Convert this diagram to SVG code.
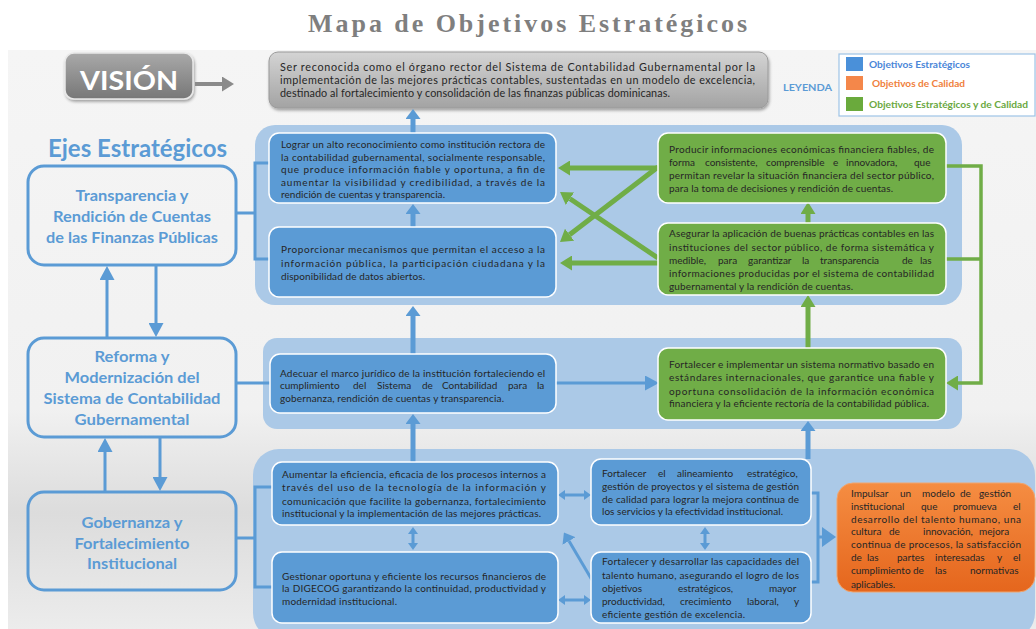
<svg xmlns="http://www.w3.org/2000/svg" width="1036" height="629" viewBox="0 0 1036 629">
<style>
.t{font-family:Lato,"Liberation Sans",sans-serif;font-size:10px;fill:#262626}
.tv{font-family:Lato,"Liberation Sans",sans-serif;font-size:10.8px;fill:#262626}
.ax{font-family:Lato,"Liberation Sans",sans-serif;font-weight:bold;font-size:15.5px;fill:#5b9bd5;text-anchor:middle}
.lg{font-family:Lato,"Liberation Sans",sans-serif;font-weight:bold;font-size:10px}
.pan{fill:#abc9e7}
.bb{fill:#5b9bd5;stroke:#ffffff;stroke-width:1.5}
.gb{fill:#70ad47;stroke:#ffffff;stroke-width:1.5}
.axbox{fill:none;stroke:#5b9bd5;stroke-width:3}
.cb{fill:none;stroke:#5b9bd5;stroke-width:3}
.cbw{fill:none;stroke:#5b9bd5;stroke-width:5}
.cg{fill:none;stroke:#70ad47;stroke-width:5}
.cgt{fill:none;stroke:#70ad47;stroke-width:3.5}
</style>
<defs>
<linearGradient id="bg" x1="0" y1="0" x2="0" y2="1">
<stop offset="0" stop-color="#f5f5f5"/>
<stop offset="0.62" stop-color="#f1f1f1"/>
<stop offset="0.8" stop-color="#dcdcdc"/>
<stop offset="1" stop-color="#ececec"/>
</linearGradient>
<linearGradient id="gv" x1="0" y1="0" x2="0" y2="1">
<stop offset="0" stop-color="#a9a9a9"/>
<stop offset="1" stop-color="#777777"/>
</linearGradient>
<linearGradient id="gvt" x1="0" y1="0" x2="0" y2="1">
<stop offset="0" stop-color="#d4d4d4"/>
<stop offset="1" stop-color="#a3a3a3"/>
</linearGradient>
<linearGradient id="go" x1="0" y1="0" x2="0" y2="1">
<stop offset="0" stop-color="#f58d42"/>
<stop offset="1" stop-color="#e5661d"/>
</linearGradient>
<filter id="sh" x="-10%" y="-20%" width="120%" height="150%">
<feDropShadow dx="1" dy="2" stdDeviation="1.5" flood-color="#000" flood-opacity="0.35"/>
</filter>
<marker id="mB" markerUnits="userSpaceOnUse" viewBox="0 0 10 15" markerWidth="10" markerHeight="15" refX="0" refY="7.5" orient="auto-start-reverse"><path d="M0,0 L10,7.5 L0,15 z" fill="#5b9bd5"/></marker>
<marker id="mBL" markerUnits="userSpaceOnUse" viewBox="0 0 14 15" markerWidth="14" markerHeight="15" refX="0" refY="7.5" orient="auto-start-reverse"><path d="M0,0 L14,7.5 L0,15 z" fill="#5b9bd5"/></marker>
<marker id="mBs" markerUnits="userSpaceOnUse" viewBox="0 0 7 10" markerWidth="7" markerHeight="10" refX="0" refY="5" orient="auto-start-reverse"><path d="M0,0 L7,5 L0,10 z" fill="#5b9bd5"/></marker>
<marker id="mBo" markerUnits="userSpaceOnUse" viewBox="0 0 14 20" markerWidth="14" markerHeight="20" refX="0" refY="10" orient="auto"><path d="M0,0 L14,10 L0,20 z" fill="#5b9bd5"/></marker>
<marker id="mG" markerUnits="userSpaceOnUse" viewBox="0 0 12 15" markerWidth="12" markerHeight="15" refX="0" refY="7.5" orient="auto"><path d="M0,0 L12,7.5 L0,15 z" fill="#70ad47"/></marker>
<marker id="mGr" markerUnits="userSpaceOnUse" viewBox="0 0 12 15" markerWidth="12" markerHeight="15" refX="0" refY="7.5" orient="auto"><path d="M0,0 L12,7.5 L0,15 z" fill="#8a8a8a"/></marker>
</defs>

<rect x="0" y="0" width="1036" height="629" fill="#ffffff"/>
<rect x="8" y="50" width="1028" height="579" fill="url(#bg)"/>

<text x="308" y="32" textLength="439" lengthAdjust="spacing" font-family="'Liberation Serif',serif" font-weight="bold" font-size="26" fill="#7f7f7f">Mapa de Objetivos Estratégicos</text>

<!-- panels -->
<rect class="pan" x="255" y="125" width="707" height="180" rx="20"/>
<rect class="pan" x="263" y="338" width="699" height="91" rx="14"/>
<rect class="pan" x="253" y="449" width="782" height="190" rx="26"/>

<g id="vision-label">
<rect x="65" y="53" width="128" height="46" rx="9" fill="url(#gv)" stroke="#e8e8e8" stroke-width="1.5" filter="url(#sh)"/>
<text x="129" y="90" text-anchor="middle" textLength="98" lengthAdjust="spacingAndGlyphs" font-family="Lato,'Liberation Sans',sans-serif" font-weight="bold" font-size="27" fill="#ffffff">VISIÓN</text>
</g>

<g id="vision-text">
<rect x="269" y="52" width="499" height="56" rx="9" fill="url(#gvt)" stroke="#9a9a9a" stroke-width="1" filter="url(#sh)"/>
<text class="tv" x="280" y="71" textLength="475" lengthAdjust="spacing">Ser reconocida como el órgano rector del Sistema de Contabilidad Gubernamental por la</text>
<text class="tv" x="280" y="84" textLength="475" lengthAdjust="spacing">implementación de las mejores prácticas contables, sustentadas en un modelo de excelencia,</text>
<text class="tv" x="280" y="97" textLength="390" lengthAdjust="spacing">destinado al fortalecimiento y consolidación de las finanzas públicas dominicanas.</text>
</g>

<g id="legend">
<text x="783" y="91" textLength="49" lengthAdjust="spacingAndGlyphs" class="lg" font-size="10.5" fill="#5b9bd5">LEYENDA</text>
<rect x="839" y="54" width="196" height="62" fill="#ffffff" stroke="#9dc3e6" stroke-width="1.2"/>
<rect x="846" y="57" width="17" height="14" fill="#4a90d9"/>
<rect x="846" y="76" width="17" height="14" fill="#f4874a"/>
<rect x="846" y="97" width="17" height="14" fill="#6aaa3c"/>
<text class="lg" x="869" y="68" textLength="101" lengthAdjust="spacingAndGlyphs" fill="#4a86d8">Objetivos Estratégicos</text>
<text class="lg" x="872" y="87" textLength="93" lengthAdjust="spacingAndGlyphs" fill="#f07f3c">Objetivos de Calidad</text>
<text class="lg" x="869" y="108" textLength="159" lengthAdjust="spacingAndGlyphs" fill="#6aa842">Objetivos Estratégicos y de Calidad</text>
</g>

<text x="48" y="157" textLength="179" lengthAdjust="spacingAndGlyphs" font-family="Lato,'Liberation Sans',sans-serif" font-weight="bold" font-size="24" fill="#5b9bd5">Ejes Estratégicos</text>

<g id="axis-transparencia">
<rect class="axbox" x="28" y="166" width="208" height="99" rx="16"/>
<text class="ax" x="132" y="201" textLength="113" lengthAdjust="spacingAndGlyphs">Transparencia y</text>
<text class="ax" x="132" y="222" textLength="158" lengthAdjust="spacingAndGlyphs">Rendición de Cuentas</text>
<text class="ax" x="132" y="243" textLength="172" lengthAdjust="spacingAndGlyphs">de las Finanzas Públicas</text>
</g>

<g id="axis-reforma">
<rect class="axbox" x="28" y="338" width="208" height="99" rx="16"/>
<text class="ax" x="132" y="362" textLength="75" lengthAdjust="spacingAndGlyphs">Reforma y</text>
<text class="ax" x="132" y="383" textLength="135" lengthAdjust="spacingAndGlyphs">Modernización del</text>
<text class="ax" x="132" y="404" textLength="177" lengthAdjust="spacingAndGlyphs">Sistema de Contabilidad</text>
<text class="ax" x="132" y="425" textLength="115" lengthAdjust="spacingAndGlyphs">Gubernamental</text>
</g>

<g id="axis-gobernanza">
<rect class="axbox" x="28" y="492" width="208" height="98" rx="16"/>
<text class="ax" x="132" y="528" textLength="101" lengthAdjust="spacingAndGlyphs">Gobernanza y</text>
<text class="ax" x="132" y="549" textLength="115" lengthAdjust="spacingAndGlyphs">Fortalecimiento</text>
<text class="ax" x="132" y="569" textLength="90" lengthAdjust="spacingAndGlyphs">Institucional</text>
</g>

<g id="connectors">
<line x1="195" y1="84" x2="222" y2="84" stroke="#8a8a8a" stroke-width="4" marker-end="url(#mGr)"/>
<!-- left axis arrows -->
<line class="cb" x1="107" y1="338" x2="107" y2="280" stroke-width="4" marker-end="url(#mBL)"/>
<line class="cb" x1="156" y1="265" x2="156" y2="323" stroke-width="4" marker-end="url(#mBL)"/>
<line class="cb" x1="105" y1="492" x2="105" y2="452" stroke-width="4" marker-end="url(#mBL)"/>
<line class="cb" x1="160" y1="437" x2="160" y2="477" stroke-width="4" marker-end="url(#mBL)"/>
<!-- brackets -->
<path class="cb" d="M236,213 H255 M269,163 H255 V259 H269"/>
<path class="cb" d="M236,383 H270"/>
<path class="cb" d="M236,538 H255 M272,487 H255 V587 H272"/>
<!-- vertical blue -->
<line class="cbw" x1="413" y1="133" x2="413" y2="119" marker-end="url(#mB)"/>
<line class="cbw" x1="413" y1="227" x2="413" y2="214" marker-end="url(#mB)"/>
<line class="cbw" x1="413" y1="354" x2="413" y2="316" marker-end="url(#mB)"/>
<line class="cbw" x1="413" y1="462" x2="413" y2="424" marker-end="url(#mB)"/>
<line class="cbw" x1="808" y1="459" x2="808" y2="431" marker-end="url(#mB)"/>
<line class="cb" x1="556" y1="383" x2="645" y2="383" stroke-width="4" marker-end="url(#mBL)"/>
<!-- green -->
<line class="cg" x1="808" y1="223" x2="808" y2="214" marker-end="url(#mG)"/>
<line class="cg" x1="808" y1="348" x2="808" y2="307" marker-end="url(#mG)"/>
<line class="cg" x1="658" y1="168" x2="570" y2="168" marker-end="url(#mG)"/>
<line class="cg" x1="658" y1="167" x2="569.5" y2="234.7" marker-end="url(#mG)"/>
<line class="cg" x1="658" y1="258" x2="570" y2="198.7" marker-end="url(#mG)"/>
<line class="cg" x1="658" y1="263" x2="572" y2="263" marker-end="url(#mG)"/>
<path class="cgt" d="M946,166 H981 V383 H958" marker-end="url(#mG)"/>
<path class="cgt" d="M946,259 H981"/>
<!-- panel 3 -->
<line class="cb" x1="413" y1="534" x2="413" y2="543" marker-start="url(#mBs)" marker-end="url(#mBs)"/>
<line class="cb" x1="705" y1="534" x2="705" y2="543" marker-start="url(#mBs)" marker-end="url(#mBs)"/>
<line class="cb" x1="565" y1="495" x2="584" y2="495" marker-start="url(#mBs)" marker-end="url(#mBs)"/>
<line class="cb" x1="565" y1="600" x2="584" y2="600" marker-start="url(#mBs)" marker-end="url(#mBs)"/>
<line class="cb" x1="592" y1="580" x2="569" y2="541" stroke-width="4" marker-end="url(#mB)"/>
<path class="cb" d="M811,493 H818 V582 H811 M818,537 H822" marker-end="url(#mBo)"/>
</g>

<g id="obj-lograr">
<rect class="bb" x="269" y="133" width="287" height="70" rx="10"/>
<text class="t" x="281" y="148" textLength="264" lengthAdjust="spacing">Lograr un alto reconocimiento como institución rectora de</text>
<text class="t" x="281" y="160.5" textLength="264" lengthAdjust="spacing">la contabilidad gubernamental, socialmente responsable,</text>
<text class="t" x="281" y="173" textLength="264" lengthAdjust="spacing">que produce información fiable y oportuna, a fin de</text>
<text class="t" x="281" y="185.5" textLength="264" lengthAdjust="spacing">aumentar la visibilidad y credibilidad, a través de la</text>
<text class="t" x="281" y="198" textLength="164" lengthAdjust="spacing">rendición de cuentas y transparencia.</text>
</g>

<g id="obj-proporcionar">
<rect class="bb" x="269" y="227" width="287" height="70" rx="10"/>
<text class="t" x="281" y="253" textLength="264" lengthAdjust="spacing">Proporcionar mecanismos que permitan el acceso a la</text>
<text class="t" x="281" y="267" textLength="264" lengthAdjust="spacing">información pública, la participación ciudadana y la</text>
<text class="t" x="281" y="280" textLength="144" lengthAdjust="spacing">disponibilidad de datos abiertos.</text>
</g>

<g id="obj-producir">
<rect class="gb" x="658" y="133" width="288" height="70" rx="10"/>
<text class="t" x="669" y="153" textLength="265" lengthAdjust="spacing">Producir informaciones económicas financiera fiables, de</text>
<text class="t" y="166"><tspan x="669">forma</tspan><tspan x="705">consistente,</tspan><tspan x="766">comprensible</tspan><tspan x="833">e</tspan><tspan x="846">innovadora,</tspan><tspan x="914">que</tspan></text>
<text class="t" x="669" y="179" textLength="265" lengthAdjust="spacing">permitan revelar la situación financiera del sector público,</text>
<text class="t" x="669" y="192" textLength="224" lengthAdjust="spacing">para la toma de decisiones y rendición de cuentas.</text>
</g>

<g id="obj-asegurar">
<rect class="gb" x="658" y="223" width="288" height="72" rx="10"/>
<text class="t" x="669" y="237" textLength="265" lengthAdjust="spacing">Asegurar la aplicación de buenas prácticas contables en las</text>
<text class="t" x="669" y="250.5" textLength="265" lengthAdjust="spacing">instituciones del sector público, de forma sistemática y</text>
<text class="t" y="264"><tspan x="669">medible,</tspan><tspan x="718">para</tspan><tspan x="748">garantizar</tspan><tspan x="802">la</tspan><tspan x="820">transparencia</tspan><tspan x="902">de</tspan><tspan x="920">las</tspan></text>
<text class="t" x="669" y="277" textLength="265" lengthAdjust="spacing">informaciones producidas por el sistema de contabilidad</text>
<text class="t" x="669" y="290" textLength="184" lengthAdjust="spacing">gubernamental y la rendición de cuentas.</text>
</g>

<g id="obj-adecuar">
<rect class="bb" x="270" y="354" width="286" height="59" rx="10"/>
<text class="t" x="280" y="376.5" textLength="265" lengthAdjust="spacing">Adecuar el marco jurídico de la institución fortaleciendo el</text>
<text class="t" y="389"><tspan x="280">cumplimiento</tspan><tspan x="353">del</tspan><tspan x="377">Sistema</tspan><tspan x="422">de</tspan><tspan x="442">Contabilidad</tspan><tspan x="508">para</tspan><tspan x="537">la</tspan></text>
<text class="t" x="280" y="402" textLength="224" lengthAdjust="spacing">gobernanza, rendición de cuentas y transparencia.</text>
</g>

<g id="obj-fortalecer-normativo">
<rect class="gb" x="658" y="348" width="288" height="72" rx="10"/>
<text class="t" x="669" y="368" textLength="265" lengthAdjust="spacing">Fortalecer e implementar un sistema normativo basado en</text>
<text class="t" x="669" y="381" textLength="265" lengthAdjust="spacing">estándares internacionales, que garantice una fiable y</text>
<text class="t" x="669" y="394.5" textLength="265" lengthAdjust="spacing">oportuna consolidación de la información económica</text>
<text class="t" x="669" y="407" textLength="260" lengthAdjust="spacing">financiera y la eficiente rectoría de la contabilidad pública.</text>
</g>

<g id="obj-aumentar">
<rect class="bb" x="272" y="462" width="286" height="63" rx="10"/>
<text class="t" x="282" y="478" textLength="264" lengthAdjust="spacing">Aumentar la eficiencia, eficacia de los procesos internos a</text>
<text class="t" x="282" y="491" textLength="264" lengthAdjust="spacing">través del uso de la tecnología de la información y</text>
<text class="t" x="282" y="504.5" textLength="264" lengthAdjust="spacing">comunicación que facilite la gobernanza, fortalecimiento</text>
<text class="t" x="282" y="517" textLength="259" lengthAdjust="spacing">institucional y la implementación de las mejores prácticas.</text>
</g>

<g id="obj-gestionar">
<rect class="bb" x="272" y="552" width="286" height="71" rx="10"/>
<text class="t" x="282" y="580" textLength="264" lengthAdjust="spacing">Gestionar oportuna y eficiente los recursos financieros de</text>
<text class="t" x="282" y="592" textLength="264" lengthAdjust="spacing">la DIGECOG garantizando la continuidad, productividad y</text>
<text class="t" x="282" y="605" textLength="115" lengthAdjust="spacing">modernidad institucional.</text>
</g>

<g id="obj-alineamiento">
<rect class="bb" x="591" y="459" width="220" height="66" rx="10"/>
<text class="t" y="477"><tspan x="602">Fortalecer</tspan><tspan x="658">el</tspan><tspan x="677">alineamiento</tspan><tspan x="747">estratégico,</tspan></text>
<text class="t" x="602" y="490" textLength="197" lengthAdjust="spacing">gestión de proyectos y el sistema de gestión</text>
<text class="t" x="602" y="503" textLength="197" lengthAdjust="spacing">de calidad para lograr la mejora continua de</text>
<text class="t" x="602" y="515" textLength="181" lengthAdjust="spacing">los servicios y la efectividad institucional.</text>
</g>

<g id="obj-talento">
<rect class="bb" x="591" y="552" width="220" height="71" rx="10"/>
<text class="t" x="602" y="565" textLength="197" lengthAdjust="spacing">Fortalecer y desarrollar las capacidades del</text>
<text class="t" x="602" y="578.5" textLength="197" lengthAdjust="spacing">talento humano, asegurando el logro de los</text>
<text class="t" y="592"><tspan x="602">objetivos</tspan><tspan x="678">estratégicos,</tspan><tspan x="769">mayor</tspan></text>
<text class="t" y="605"><tspan x="602">productividad,</tspan><tspan x="680">crecimiento</tspan><tspan x="747">laboral,</tspan><tspan x="794">y</tspan></text>
<text class="t" x="602" y="618" textLength="143" lengthAdjust="spacing">eficiente gestión de excelencia.</text>
</g>

<g id="obj-impulsar">
<rect x="837" y="483" width="198" height="109" rx="16" fill="url(#go)" stroke="#f0a56e" stroke-width="1"/>
<text class="t" y="497"><tspan x="851">Impulsar</tspan><tspan x="900">un</tspan><tspan x="922">modelo</tspan><tspan x="960">de</tspan><tspan x="979">gestión</tspan></text>
<text class="t" y="510"><tspan x="851">institucional</tspan><tspan x="921">que</tspan><tspan x="953">promueva</tspan><tspan x="1013">el</tspan></text>
<text class="t" x="851" y="522.5" textLength="170" lengthAdjust="spacing">desarrollo del talento humano, una</text>
<text class="t" y="535"><tspan x="851">cultura</tspan><tspan x="889">de</tspan><tspan x="923">innovación,</tspan><tspan x="979">mejora</tspan></text>
<text class="t" x="851" y="548" textLength="170" lengthAdjust="spacing">continua de procesos, la satisfacción</text>
<text class="t" y="561"><tspan x="851">de</tspan><tspan x="867">las</tspan><tspan x="897">partes</tspan><tspan x="935">interesadas</tspan><tspan x="997">y</tspan><tspan x="1013">el</tspan></text>
<text class="t" y="574"><tspan x="851">cumplimiento</tspan><tspan x="913">de</tspan><tspan x="935">las</tspan><tspan x="970">normativas</tspan></text>
<text class="t" x="851" y="587.5" textLength="44" lengthAdjust="spacing">aplicables.</text>
</g>
</svg>
